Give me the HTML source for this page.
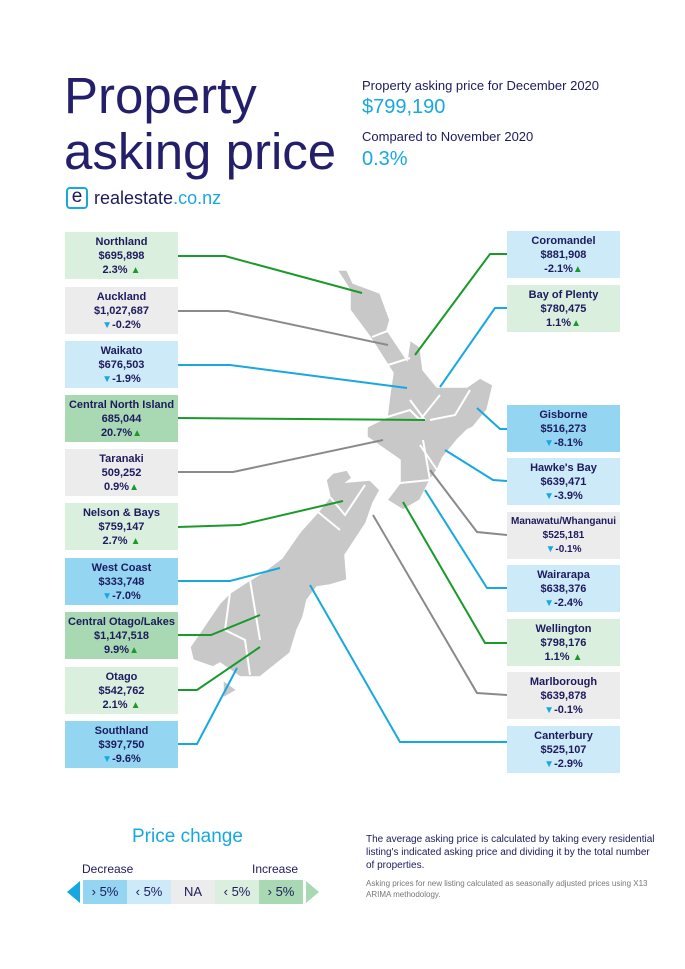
<!DOCTYPE html>
<html><head><meta charset="utf-8"><style>
body{margin:0;width:685px;height:969px;background:#fff;position:relative;overflow:hidden;font-family:"Liberation Sans",sans-serif;color:#1d1a5e}
.a{position:absolute}
.b{position:absolute;width:113px;height:47px;text-align:center;font-size:11px;line-height:14px;font-weight:bold;padding-top:3px;box-sizing:border-box}
.g1{background:#dbefdf}.gr{background:#ececec}.bl{background:#cdeaf8}.g2{background:#a9d9b2}.b2{background:#94d6f2}
.up{color:#1a9a2a;font-size:10px}.dn{color:#18a8e0;font-size:10px}
.l{position:absolute;width:44px;height:24px;text-align:center;font-size:13px;line-height:24px;top:880px}
</style></head><body>
<div class="a" style="left:64px;top:68px;font-size:51px;line-height:56px;color:#231f6b">Property<br>asking price</div>
<div class="a" style="left:362px;top:78px;font-size:13px">Property asking price for December 2020</div>
<div class="a" style="left:362px;top:96px;font-size:20px;color:#18a8e0">$799,190</div>
<div class="a" style="left:362px;top:129px;font-size:13px">Compared to November 2020</div>
<div class="a" style="left:362px;top:148px;font-size:20px;color:#18a8e0">0.3%</div>
<div class="a" style="left:66px;top:187px;width:22px;height:22px;border:2px solid #18a8e0;border-radius:4px;box-sizing:border-box;font-size:19px;line-height:16px;text-align:center;color:#1d1a5e">e</div>
<div class="a" style="left:94px;top:188px;font-size:18px">realestate<span style="color:#18a8e0">.co.nz</span></div>

<svg class="a" style="left:0;top:0" width="685" height="969">
<g fill="#c8c8c8" stroke="#fff" stroke-width="1.5">
<path d="M337,270 347,270 353,283 380,293 390,320 387,330 407,360 410,340 420,347 423,370 437,387 467,387 480,378 493,385 487,410 473,427 467,430 457,440 443,457 437,470 430,480 420,500 403,510 387,500 400,483 400,460 390,453 367,437 367,427 387,417 390,393 393,373 370,337 350,310 350,290Z"/>
<path d="M333,473 347,470 352,478 347,482 370,480 380,490 373,503 366,523 345,555 347,580 330,585 317,587 307,600 303,617 297,630 290,653 260,677 240,677 220,663 213,667 193,660 190,647 220,603 230,593 250,580 262,573 282,558 300,532 318,512 330,497 326,480Z"/>
<path d="M223,680 237,690 223,698Z"/>
</g>
<g fill="none" stroke="#fff" stroke-width="2">
<path d="M372,337 390,330 M388,365 410,358 M387,417 410,410 420,420 M410,400 425,420 M420,420 440,395 M430,420 455,415 470,390 M423,440 430,480 M420,445 437,470 M400,483 430,480"/>
<path d="M330,497 345,515 365,485 M318,512 340,530 M300,532 270,560 250,580 M250,580 255,610 260,640 M230,593 225,630 245,640 250,675"/>
</g>
<g fill="none" stroke-width="2">
<polyline stroke="#1a9a2a" points="178,256 225,256 362,293"/>
<polyline stroke="#8a8a8a" points="178,311 228,311 388,345"/>
<polyline stroke="#18a8e0" points="178,365 230,365 407,388"/>
<polyline stroke="#1a9a2a" points="178,418 425,420"/>
<polyline stroke="#8a8a8a" points="178,472 233,472 383,440"/>
<polyline stroke="#1a9a2a" points="178,527 240,525 343,501"/>
<polyline stroke="#18a8e0" points="178,581 230,581 280,568"/>
<polyline stroke="#1a9a2a" points="178,635 211,635 260,615"/>
<polyline stroke="#1a9a2a" points="178,690 197,690 260,647"/>
<polyline stroke="#18a8e0" points="178,744 197,744 237,668"/>
<polyline stroke="#1a9a2a" points="507,254 490,254 415,355"/>
<polyline stroke="#18a8e0" points="507,308 495,308 440,387"/>
<polyline stroke="#18a8e0" points="507,429 500,429 477,408"/>
<polyline stroke="#18a8e0" points="507,481 493,480 445,450"/>
<polyline stroke="#8a8a8a" points="507,535 477,532 430,470"/>
<polyline stroke="#18a8e0" points="507,588 487,588 425,490"/>
<polyline stroke="#1a9a2a" points="507,643 485,643 403,502"/>
<polyline stroke="#8a8a8a" points="507,695 477,693 373,515"/>
<polyline stroke="#18a8e0" points="507,742 400,742 310,585"/>
</g>
<polygon points="67,892 80,881 80,903" fill="#18a8e0"/>
<polygon points="306,881 319,892 306,903" fill="#a9d9b2"/>
</svg>

<div class="b g1" style="left:65px;top:232px">Northland<br>$695,898<br>2.3% <span class="up">▲</span></div>
<div class="b gr" style="left:65px;top:287px">Auckland<br>$1,027,687<br><span class="dn">▼</span>-0.2%</div>
<div class="b bl" style="left:65px;top:341px">Waikato<br>$676,503<br><span class="dn">▼</span>-1.9%</div>
<div class="b g2" style="left:65px;top:395px">Central North Island<br>685,044<br>20.7%<span class="up">▲</span></div>
<div class="b gr" style="left:65px;top:449px">Taranaki<br>509,252<br>0.9%<span class="up">▲</span></div>
<div class="b g1" style="left:65px;top:503px">Nelson &amp; Bays<br>$759,147<br>2.7% <span class="up">▲</span></div>
<div class="b b2" style="left:65px;top:558px">West Coast<br>$333,748<br><span class="dn">▼</span>-7.0%</div>
<div class="b g2" style="left:65px;top:612px">Central Otago/Lakes<br>$1,147,518<br>9.9%<span class="up">▲</span></div>
<div class="b g1" style="left:65px;top:667px">Otago<br>$542,762<br>2.1% <span class="up">▲</span></div>
<div class="b b2" style="left:65px;top:721px">Southland<br>$397,750<br><span class="dn">▼</span>-9.6%</div>

<div class="b bl" style="left:507px;top:231px">Coromandel<br>$881,908<br>-2.1%<span class="up">▲</span></div>
<div class="b g1" style="left:507px;top:285px">Bay of Plenty<br>$780,475<br>1.1%<span class="up">▲</span></div>
<div class="b b2" style="left:507px;top:405px">Gisborne<br>$516,273<br><span class="dn">▼</span>-8.1%</div>
<div class="b bl" style="left:507px;top:458px">Hawke's Bay<br>$639,471<br><span class="dn">▼</span>-3.9%</div>
<div class="b gr" style="left:507px;top:512px;font-size:10px">Manawatu/Whanganui<br>$525,181<br><span class="dn">▼</span>-0.1%</div>
<div class="b bl" style="left:507px;top:565px">Wairarapa<br>$638,376<br><span class="dn">▼</span>-2.4%</div>
<div class="b g1" style="left:507px;top:619px">Wellington<br>$798,176<br>1.1% <span class="up">▲</span></div>
<div class="b gr" style="left:507px;top:672px">Marlborough<br>$639,878<br><span class="dn">▼</span>-0.1%</div>
<div class="b bl" style="left:507px;top:726px">Canterbury<br>$525,107<br><span class="dn">▼</span>-2.9%</div>

<div class="a" style="left:132px;top:826px;font-size:19px;color:#18a8e0">Price change</div>
<div class="a" style="left:82px;top:862px;font-size:12px">Decrease</div>
<div class="a" style="left:252px;top:862px;font-size:12px">Increase</div>
<div class="l" style="left:83px;background:#94d6f2">› 5%</div>
<div class="l" style="left:127px;background:#cdeaf8">‹ 5%</div>
<div class="l" style="left:171px;background:#ececec">NA</div>
<div class="l" style="left:215px;background:#dbefdf">‹ 5%</div>
<div class="l" style="left:259px;background:#a9d9b2">› 5%</div>
<div class="a" style="left:366px;top:833px;font-size:10px;line-height:13px;width:290px">The average asking price is calculated by taking every residential listing's indicated asking price and dividing it by the total number of properties.</div>
<div class="a" style="left:366px;top:878px;font-size:8px;line-height:11px;width:290px;color:#777">Asking prices for new listing calculated as seasonally adjusted prices using X13 ARIMA methodology.</div>
</body></html>
